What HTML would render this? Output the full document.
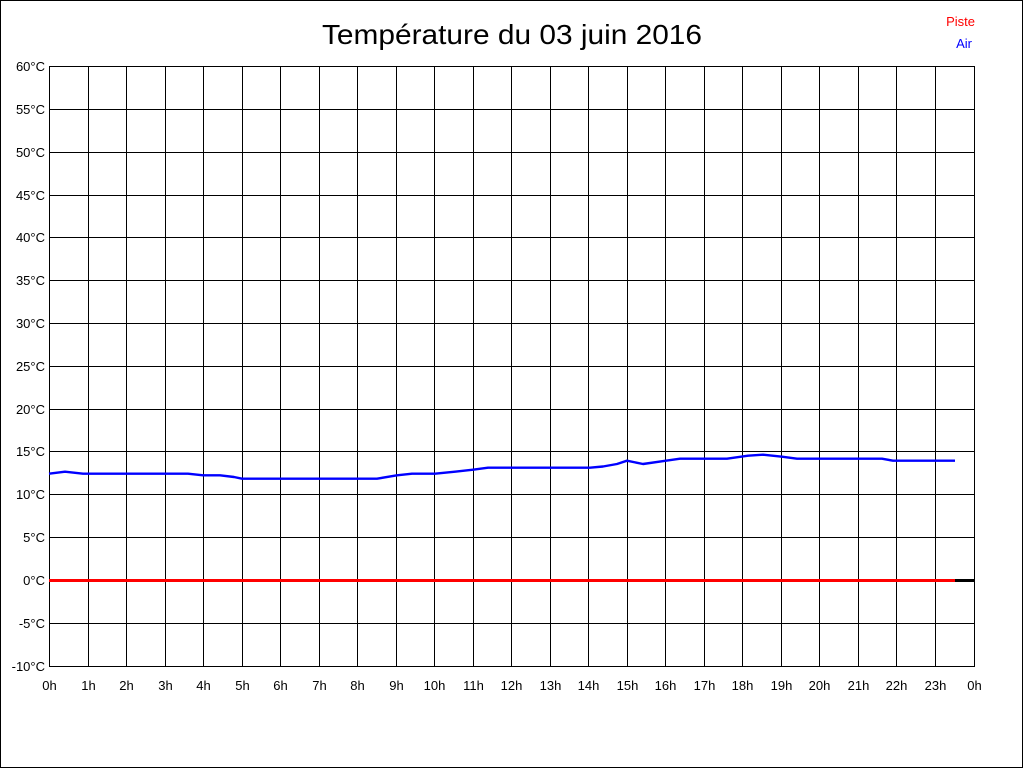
<!DOCTYPE html>
<html>
<head>
<meta charset="utf-8">
<style>
html,body{margin:0;padding:0;background:#fff;}
svg{display:block;}
text{font-family:"Liberation Sans",Arial,sans-serif;}
</style>
</head>
<body>
<svg width="1024" height="768" viewBox="0 0 1024 768" xmlns="http://www.w3.org/2000/svg">
<rect x="0" y="0" width="1024" height="768" fill="#fff"/>
<g stroke="#000" stroke-width="1" shape-rendering="crispEdges" fill="none">
<line x1="0.5" y1="0" x2="0.5" y2="768"/>
<line x1="0" y1="0.5" x2="1023" y2="0.5"/>
<line x1="1022.5" y1="0" x2="1022.5" y2="768"/>
<line x1="0" y1="767.5" x2="1023" y2="767.5"/>
</g>
<text x="322" y="44" font-size="28" textLength="380" lengthAdjust="spacingAndGlyphs" fill="#000">Température du 03 juin 2016</text>
<text x="975" y="26" font-size="13" text-anchor="end" fill="#ff0000">Piste</text>
<text x="972" y="48" font-size="13" text-anchor="end" fill="#0000ff">Air</text>
<g stroke="#000" stroke-width="1" shape-rendering="crispEdges">
<line x1="49" y1="66.5" x2="975" y2="66.5"/>
<line x1="49" y1="109.5" x2="975" y2="109.5"/>
<line x1="49" y1="152.5" x2="975" y2="152.5"/>
<line x1="49" y1="195.5" x2="975" y2="195.5"/>
<line x1="49" y1="237.5" x2="975" y2="237.5"/>
<line x1="49" y1="280.5" x2="975" y2="280.5"/>
<line x1="49" y1="323.5" x2="975" y2="323.5"/>
<line x1="49" y1="366.5" x2="975" y2="366.5"/>
<line x1="49" y1="409.5" x2="975" y2="409.5"/>
<line x1="49" y1="451.5" x2="975" y2="451.5"/>
<line x1="49" y1="494.5" x2="975" y2="494.5"/>
<line x1="49" y1="537.5" x2="975" y2="537.5"/>
<line x1="49" y1="580.5" x2="975" y2="580.5"/>
<line x1="49" y1="623.5" x2="975" y2="623.5"/>
<line x1="49" y1="666.5" x2="975" y2="666.5"/>
<line x1="49.5" y1="66" x2="49.5" y2="667"/>
<line x1="88.5" y1="66" x2="88.5" y2="667"/>
<line x1="126.5" y1="66" x2="126.5" y2="667"/>
<line x1="165.5" y1="66" x2="165.5" y2="667"/>
<line x1="203.5" y1="66" x2="203.5" y2="667"/>
<line x1="242.5" y1="66" x2="242.5" y2="667"/>
<line x1="280.5" y1="66" x2="280.5" y2="667"/>
<line x1="319.5" y1="66" x2="319.5" y2="667"/>
<line x1="357.5" y1="66" x2="357.5" y2="667"/>
<line x1="396.5" y1="66" x2="396.5" y2="667"/>
<line x1="434.5" y1="66" x2="434.5" y2="667"/>
<line x1="473.5" y1="66" x2="473.5" y2="667"/>
<line x1="511.5" y1="66" x2="511.5" y2="667"/>
<line x1="550.5" y1="66" x2="550.5" y2="667"/>
<line x1="588.5" y1="66" x2="588.5" y2="667"/>
<line x1="627.5" y1="66" x2="627.5" y2="667"/>
<line x1="665.5" y1="66" x2="665.5" y2="667"/>
<line x1="704.5" y1="66" x2="704.5" y2="667"/>
<line x1="742.5" y1="66" x2="742.5" y2="667"/>
<line x1="781.5" y1="66" x2="781.5" y2="667"/>
<line x1="819.5" y1="66" x2="819.5" y2="667"/>
<line x1="858.5" y1="66" x2="858.5" y2="667"/>
<line x1="896.5" y1="66" x2="896.5" y2="667"/>
<line x1="935.5" y1="66" x2="935.5" y2="667"/>
<line x1="974.5" y1="66" x2="974.5" y2="667"/>
</g>
<g font-size="13" text-anchor="end" fill="#000">
<text x="45" y="71">60°C</text>
<text x="45" y="114">55°C</text>
<text x="45" y="157">50°C</text>
<text x="45" y="200">45°C</text>
<text x="45" y="242">40°C</text>
<text x="45" y="285">35°C</text>
<text x="45" y="328">30°C</text>
<text x="45" y="371">25°C</text>
<text x="45" y="414">20°C</text>
<text x="45" y="456">15°C</text>
<text x="45" y="499">10°C</text>
<text x="45" y="542">5°C</text>
<text x="45" y="585">0°C</text>
<text x="45" y="628">-5°C</text>
<text x="45" y="671">-10°C</text>
</g>
<g font-size="13" text-anchor="middle" fill="#000">
<text x="49.5" y="690">0h</text>
<text x="88.5" y="690">1h</text>
<text x="126.5" y="690">2h</text>
<text x="165.5" y="690">3h</text>
<text x="203.5" y="690">4h</text>
<text x="242.5" y="690">5h</text>
<text x="280.5" y="690">6h</text>
<text x="319.5" y="690">7h</text>
<text x="357.5" y="690">8h</text>
<text x="396.5" y="690">9h</text>
<text x="434.5" y="690">10h</text>
<text x="473.5" y="690">11h</text>
<text x="511.5" y="690">12h</text>
<text x="550.5" y="690">13h</text>
<text x="588.5" y="690">14h</text>
<text x="627.5" y="690">15h</text>
<text x="665.5" y="690">16h</text>
<text x="704.5" y="690">17h</text>
<text x="742.5" y="690">18h</text>
<text x="781.5" y="690">19h</text>
<text x="819.5" y="690">20h</text>
<text x="858.5" y="690">21h</text>
<text x="896.5" y="690">22h</text>
<text x="935.5" y="690">23h</text>
<text x="974.5" y="690">0h</text>
</g>
<line x1="49" y1="580.5" x2="975" y2="580.5" stroke="#000" stroke-width="3"/>
<line x1="49" y1="580.5" x2="955" y2="580.5" stroke="#ff0000" stroke-width="3"/>
<polyline fill="none" stroke="#0000ff" stroke-width="2.4" stroke-linejoin="round" points="49,473.7 65,471.7 83,473.7 188,473.7 203,475.3 220,475.3 234,477 242,478.7 377,478.7 397,475.3 412,473.7 435,473.7 455,471.7 473,469.7 488,467.7 590,467.7 603,466.5 617,464 627,460.7 643,464 666,460.7 680,458.7 727,458.7 748,455.7 763,454.7 782,456.7 797,458.7 882,458.7 893,460.7 955,460.7"/>
</svg>
</body>
</html>
